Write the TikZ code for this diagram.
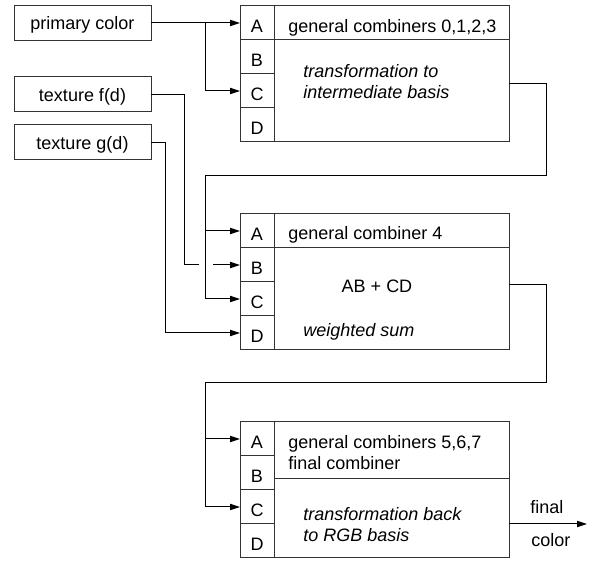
\documentclass[tikz,border=0pt]{standalone}
\usepackage{fontspec}
\setmainfont{Liberation Sans}
\usetikzlibrary{arrows.meta,calc}
\begin{document}
\begin{tikzpicture}[x=0.75pt,y=-0.75pt,
  every node/.style={font=\fontsize{13.5pt}{16pt}\selectfont},
  box/.style={draw=black!80,line width=0.75pt,rectangle,inner sep=0pt,outer sep=0pt,anchor=north west},
  inbox/.style={box,minimum width=102.75pt,minimum height=26.25pt,text height=10.5pt,text depth=0pt},
  cell/.style={box,minimum width=25.5pt,minimum height=25.5pt,text height=14.25pt,text depth=0pt},
  head/.style={box,minimum width=176.25pt,minimum height=25.5pt},
  body/.style={box,minimum width=176.25pt,minimum height=76.5pt},
  txt/.style={inner sep=0pt,anchor=base west},
  itxt/.style={txt,font=\fontsize{13.5pt}{16pt}\selectfont\itshape},
  line/.style={line width=0.75pt},
  conn/.style={line,-{Triangle[length=7.5pt,width=4.75pt]}}
]
\useasboundingbox (0,0) rectangle (594,563);

% inputs
\node[inbox] (pc) at (14,5.5) {primary color};
\node[inbox] (tf) at (14,77) {texture f(d)};
\node[inbox] (tg) at (14,125) {texture g(d)};

% block 1
\node[cell] (A1) at (240,6) {A};
\node[cell] (B1) at (240,40) {B};
\node[cell] (C1) at (240,74) {C};
\node[cell] (D1) at (240,108) {D};
\node[head] (H1) at (274,6) {};
\node[body] (M1) at (274,40) {};

% block 2
\node[cell] (A2) at (240,214) {A};
\node[cell] (B2) at (240,248) {B};
\node[cell] (C2) at (240,282) {C};
\node[cell] (D2) at (240,316) {D};
\node[head] (H2) at (274,214) {};
\node[body] (M2) at (274,248) {};

% block 3
\node[cell] (A3) at (240,422) {A};
\node[cell] (B3) at (240,456) {B};
\node[cell] (C3) at (240,490) {C};
\node[cell] (D3) at (240,524) {D};
\node[head,minimum height=42.75pt] (H3) at (274,422) {};
\node[body,minimum height=59.25pt] (M3) at (274,479) {};

% texts
\node[txt] (t1) at (288,32.5) {general combiners 0,1,2,3};
\node[itxt] (t2) at (303,77.7) {transformation to};
\node[itxt] (t3) at (303,98.3) {intermediate basis};
\node[txt] (t4) at (288,240) {general combiner 4};
\node[txt,anchor=base] (t5) at (377,292.7) {AB + CD};
\node[itxt] (t6) at (303,336.7) {weighted sum};
\node[txt] (t7) at (288,448.5) {general combiners 5,6,7};
\node[txt] (t8) at (288,470) {final combiner};
\node[itxt] (t9) at (303,521) {transformation back};
\node[itxt] (t10) at (303,541.7) {to RGB basis};
\node[txt] (t11) at (530,513.3) {final};
\node[txt] (t12) at (531,547) {color};

% primary color connectors
\coordinate (j1) at (205,23);
\draw[conn] (pc.east) -- (A1.west);
\draw[conn] (j1) |- (C1.west);

% texture f(d) with line hop
\coordinate (f1) at (184,265);
\coordinate (hopL) at (199,265);
\coordinate (hopR) at (213,265);
\draw[line] (tf.east) -| (f1) -- (hopL);
\draw[conn] (hopR) -- (B2.west);

% texture g(d)
\coordinate (g1) at (165,333);
\draw[conn] (tg.east) -| (g1) -- (D2.west);

% loop block 1 -> block 2
\coordinate (o1) at ($(M1.north east)+(0,44)$);
\coordinate (r1) at (546,176);
\coordinate (l1) at (205,176);
\draw[conn] (o1) -| (r1) -- (l1) |- (C2.west);
\draw[conn] (l1 |- A2.west) -- (A2.west);

% loop block 2 -> block 3
\coordinate (o2) at ($(M2.north east)+(0,37)$);
\coordinate (r2) at (546,383);
\coordinate (l2) at (205,383);
\draw[conn] (o2) -| (r2) -- (l2) |- (C3.west);
\draw[conn] (l2 |- A3.west) -- (A3.west);

% output
\coordinate (out) at (587,524);
\draw[conn] (M3.east |- C3.south) -- (out);
\end{tikzpicture}
\end{document}
